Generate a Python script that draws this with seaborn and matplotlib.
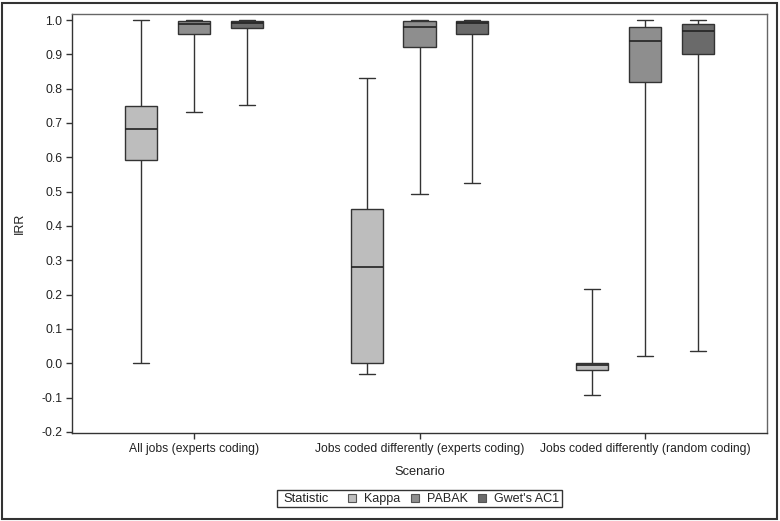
import numpy as np
import pandas as pd
import matplotlib
matplotlib.use("Agg")
import matplotlib.pyplot as plt
import seaborn as sns
from matplotlib.lines import Line2D
from matplotlib.patches import Rectangle

# five-number summaries: [min, Q1, median, Q3, max]
scenarios = ["All jobs (experts coding)",
             "Jobs coded differently (experts coding)",
             "Jobs coded differently (random coding)"]
statistics = ["Kappa", "PABAK", "Gwet's AC1"]

kappa_all = [0.0, 0.591, 0.682, 0.750, 1.0]
pabak_all = [0.733, 0.958, 0.988, 0.997, 1.0]
gwet_all = [0.751, 0.978, 0.992, 0.998, 1.0]

kappa_diff_exp = [-0.030, 0.0, 0.280, 0.450, 0.832]
pabak_diff_exp = [0.493, 0.920, 0.979, 0.996, 1.0]
gwet_diff_exp = [0.524, 0.958, 0.990, 0.998, 1.0]

kappa_diff_rnd = [-0.091, -0.020, -0.004, 0.0, 0.215]
pabak_diff_rnd = [0.020, 0.819, 0.938, 0.979, 1.0]
gwet_diff_rnd = [0.035, 0.902, 0.968, 0.989, 1.0]

colors = ["#BDBDBD", "#8E8E8E", "#6A6A6A"]

summaries = [
    [kappa_all, pabak_all, gwet_all],
    [kappa_diff_exp, pabak_diff_exp, gwet_diff_exp],
    [kappa_diff_rnd, pabak_diff_rnd, gwet_diff_rnd],
]
rows = []
for scen, group in zip(scenarios, summaries):
    for stat, vals in zip(statistics, group):
        for v in vals:
            rows.append({"Scenario": scen, "Statistic": stat, "IRR": v})
df = pd.DataFrame(rows)

sns.set_theme(style="white")
plt.rcParams["font.family"] = ["Liberation Sans", "DejaVu Sans"]
fs = 8.7

fig = plt.figure(figsize=(7.8, 5.21), dpi=100)
ax = fig.add_axes([72 / 780, 1 - 433 / 521, 695 / 780, 419 / 521])

sns.boxplot(data=df, x="Scenario", y="IRR", hue="Statistic",
            order=scenarios, hue_order=statistics, palette=colors,
            width=0.7, gap=0.39, whis=(0, 100), linewidth=1,
            linecolor="#333333", legend=False, ax=ax,
            medianprops={"color": "#222222", "linewidth": 1.2})

ax.set_ylim(-0.203, 1.0175)
ax.set_xlim(-0.541, 2.541)
yt = np.arange(-0.2, 1.01, 0.1)
ax.set_yticks(yt)
ax.set_yticklabels([f"{t:.1f}" for t in yt])
ax.tick_params(axis="both", direction="out", length=4, width=1, color="#333333",
               left=True, bottom=True, labelsize=fs, labelcolor="#222222", pad=3)
for side in ["left", "bottom"]:
    ax.spines[side].set_color("#333333")
    ax.spines[side].set_linewidth(1)
for side in ["top", "right"]:
    ax.spines[side].set_color("#666666")
    ax.spines[side].set_linewidth(1)
ax.set_xlabel("Scenario", fontsize=fs + 0.6, labelpad=8, color="#222222")
ax.set_ylabel("IRR", fontsize=fs + 0.3, color="#222222")
ax.yaxis.set_label_coords(-0.066, 0.5)

# legend: title text on the left, entries after it, one frame round both
handles = []
for c in colors:
    handles.append(Line2D([], [], linestyle="none", marker="s", markersize=5.5,
                          markerfacecolor=c, markeredgecolor="#555555", markeredgewidth=0.8))
leg_y = 1 - 498.5 / 521
fig.legend(handles, statistics, ncol=3, loc="center left",
           bbox_to_anchor=(348 / 780, leg_y - 0.7 / 521),
           frameon=False, fontsize=fs + 0.3, handlelength=0.7, handletextpad=0.6,
           columnspacing=0.8, borderpad=0, borderaxespad=0)
fig.text(283 / 780, leg_y - 1 / 521, "Statistic", fontsize=fs + 0.6, color="#222222",
         ha="left", va="center")
fig.patches.append(Rectangle((277 / 780, 1 - 507 / 521), 285 / 780, 17 / 521,
                             transform=fig.transFigure, fill=False,
                             edgecolor="#333333", linewidth=1))

fig.patches.append(Rectangle((2 / 780, 2 / 521), 775 / 780, 516 / 521, transform=fig.transFigure,
                             fill=False, edgecolor="#333333", linewidth=1.5))

fig.savefig("out.png", dpi=100)
